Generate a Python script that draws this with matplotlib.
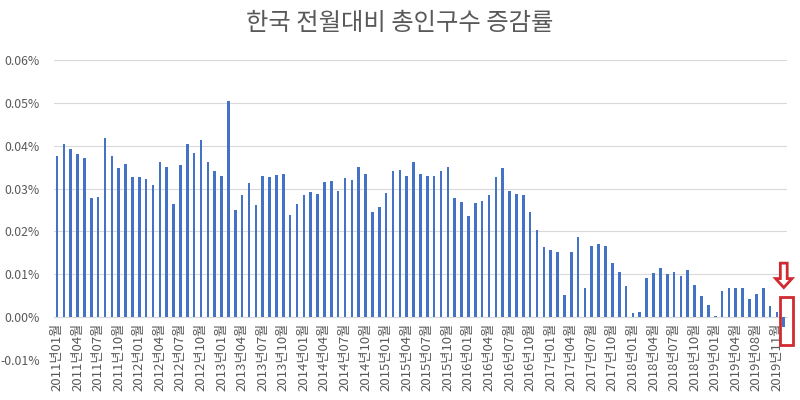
import matplotlib.pyplot as plt
from matplotlib.patches import Rectangle, Polygon
from matplotlib.ticker import FuncFormatter

plt.rcParams['font.family'] = ['Noto Sans CJK KR', 'DejaVu Sans']

# month-over-month change of total population, in percent
rates = [
    0.0376, 0.0405, 0.0392, 0.0380, 0.0371, 0.0279, 0.0281, 0.0418, 0.0376, 0.0347, 0.0358, 0.0327,
    0.0327, 0.0323, 0.0308, 0.0362, 0.0350, 0.0264, 0.0356, 0.0403, 0.0383, 0.0413, 0.0362, 0.0341,
    0.0330, 0.0504, 0.0251, 0.0284, 0.0313, 0.0261, 0.0330, 0.0327, 0.0332, 0.0335, 0.0239, 0.0263,
    0.0286, 0.0292, 0.0287, 0.0316, 0.0317, 0.0295, 0.0324, 0.0320, 0.0350, 0.0335, 0.0245, 0.0256,
    0.0290, 0.0341, 0.0343, 0.0330, 0.0362, 0.0333, 0.0330, 0.0330, 0.0340, 0.0351, 0.0278, 0.0269,
    0.0236, 0.0267, 0.0272, 0.0286, 0.0327, 0.0348, 0.0295, 0.0288, 0.0284, 0.0246, 0.0204, 0.0164,
    0.0156, 0.0151, 0.0051, 0.0153, 0.0186, 0.0069, 0.0167, 0.0170, 0.0165, 0.0126, 0.0106, 0.0073,
    0.0010, 0.0012, 0.0091, 0.0104, 0.0115, 0.0101, 0.0106, 0.0097, 0.0109, 0.0076, 0.0049, 0.0028,
    0.0002, 0.0060, 0.0069, 0.0067, 0.0067, 0.0043, 0.0055, 0.0069, 0.0027, 0.0012, -0.0022,
]

# category labels (2019-05 is not in the source table)
months = [f"{y}년{m:02d}월" for y in range(2011, 2020) for m in range(1, 13)]
months = [s for s in months if s != "2019년05월"][:len(rates)]

label_step = 3
y_ticks = [-0.01, 0.0, 0.01, 0.02, 0.03, 0.04, 0.05, 0.06]

grey = '#595959'
grid_col = '#d9d9d9'
bar_col = '#4472C4'
red = '#d02a30'

fig = plt.figure(figsize=(8, 4), dpi=100)
ax = fig.add_axes([0.067, 0.1, 0.917, 0.75])

x = list(range(len(rates)))
ax.bar(x, rates, width=0.38, color=bar_col, zorder=3)

ax.set_xlim(-0.5, len(rates) - 0.5)
ax.set_ylim(y_ticks[0], y_ticks[-1])
ax.set_yticks(y_ticks)
ax.yaxis.set_major_formatter(FuncFormatter(lambda v, p: f"{v:.2f}%"))
ax.grid(axis='y', color=grid_col, linewidth=0.8, zorder=0)

for s in ['top', 'right', 'left']:
    ax.spines[s].set_visible(False)
ax.spines['bottom'].set_position(('data', 0))
ax.spines['bottom'].set_color(grid_col)
ax.spines['bottom'].set_zorder(2)

ticks = x[::label_step]
ax.set_xticks(ticks)
ax.set_xticklabels([months[i] for i in ticks], rotation=90, fontsize=9.5, color=grey)
ax.tick_params(axis='x', length=0, pad=4)
ax.tick_params(axis='y', length=0, pad=10, labelsize=8.8, labelcolor=grey)

fig.suptitle("한국 전월대비 총인구수 증감률", fontsize=17.5, color=grey, y=0.975)

# red highlight on the last month
last = len(rates) - 1
ax.add_patch(Rectangle((last - 0.55, -0.0066), 1.9, 0.0112, fill=False,
                       edgecolor=red, linewidth=2, clip_on=False, zorder=5))
arrow = [(last - 0.5, 0.0126), (last + 0.5, 0.0126), (last + 0.5, 0.0090),
         (last + 1.2, 0.0090), (last, 0.0069), (last - 1.2, 0.0090),
         (last - 0.5, 0.0090)]
ax.add_patch(Polygon(arrow, closed=True, facecolor='white', edgecolor=red,
                     linewidth=2, clip_on=False, zorder=5))

fig.savefig("out.png", dpi=100)
